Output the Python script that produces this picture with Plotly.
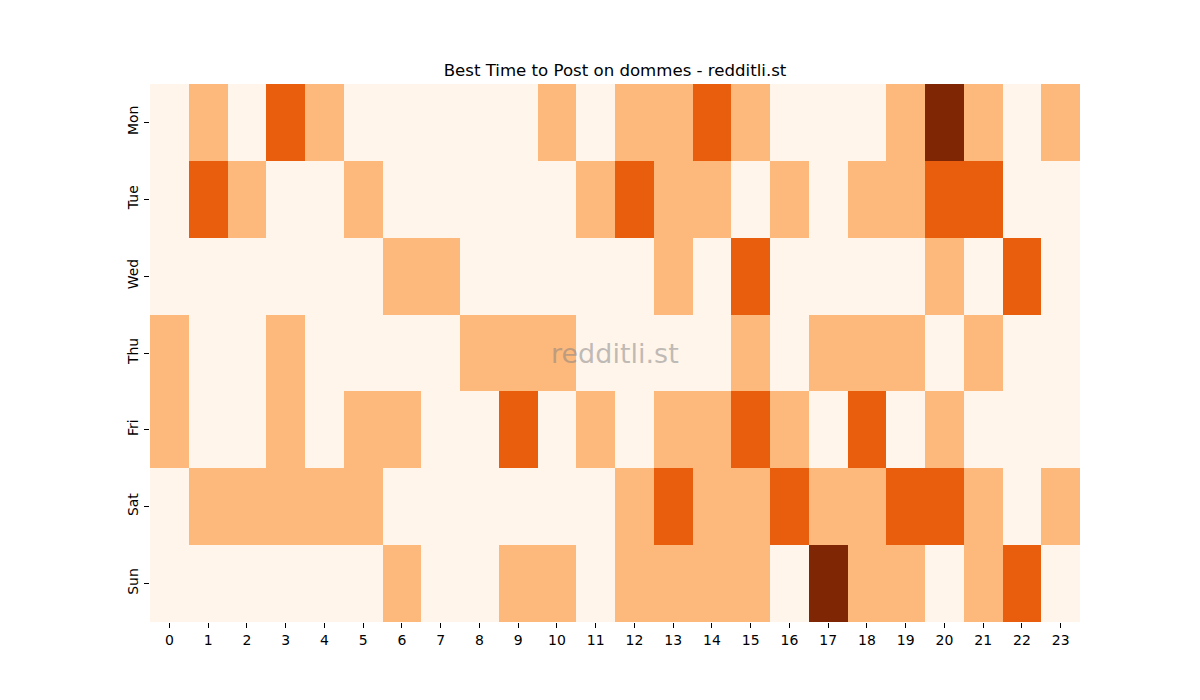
import plotly.graph_objects as go

# posting activity level per weekday and hour (0 = none ... 3 = highest)
days = ["Mon", "Tue", "Wed", "Thu", "Fri", "Sat", "Sun"]
hours = list(range(24))

mon = [0, 1, 0, 2, 1, 0, 0, 0, 0, 0, 1, 0, 1, 1, 2, 1, 0, 0, 0, 1, 3, 1, 0, 1]
tue = [0, 2, 1, 0, 0, 1, 0, 0, 0, 0, 0, 1, 2, 1, 1, 0, 1, 0, 1, 1, 2, 2, 0, 0]
wed = [0, 0, 0, 0, 0, 0, 1, 1, 0, 0, 0, 0, 0, 1, 0, 2, 0, 0, 0, 0, 1, 0, 2, 0]
thu = [1, 0, 0, 1, 0, 0, 0, 0, 1, 1, 1, 0, 0, 0, 0, 1, 0, 1, 1, 1, 0, 1, 0, 0]
fri = [1, 0, 0, 1, 0, 1, 1, 0, 0, 2, 0, 1, 0, 1, 1, 2, 1, 0, 2, 0, 1, 0, 0, 0]
sat = [0, 1, 1, 1, 1, 1, 0, 0, 0, 0, 0, 0, 1, 2, 1, 1, 2, 1, 1, 2, 2, 1, 0, 1]
sun = [0, 0, 0, 0, 0, 0, 1, 0, 0, 1, 1, 0, 1, 1, 1, 1, 0, 3, 1, 1, 0, 1, 2, 0]

z = [mon, tue, wed, thu, fri, sat, sun]

oranges = [[0.0, "#fff5eb"], [1 / 3, "#fdb87c"], [2 / 3, "#e95e0d"], [1.0, "#7f2704"]]

fig = go.Figure(go.Heatmap(
    z=z,
    x=hours,
    y=days,
    colorscale=oranges,
    zmin=0,
    zmax=3,
    showscale=False,
    xgap=0,
    ygap=0,
))

fig.add_annotation(
    x=11.5, y=3, xref="x", yref="y",
    text="redditli.st", showarrow=False,
    font=dict(family="DejaVu Sans", size=27, color="rgba(128,128,128,0.5)"),
)

# page body has an 8px margin, so shift everything up/left by 8px
fig.update_layout(
    width=1200,
    height=700,
    margin=dict(l=142, r=128, t=76, b=86),
    paper_bgcolor="white",
    plot_bgcolor="white",
    font=dict(family="DejaVu Sans", size=14, color="black"),
    title=dict(
        text="Best Time to Post on dommes - redditli.st",
        x=0.5, xref="paper", xanchor="center",
        y=1 - 62 / 700, yanchor="middle",
        font=dict(size=16.6, color="black"),
    ),
)

fig.update_xaxes(
    tickmode="array", tickvals=hours, ticktext=[str(h) for h in hours],
    ticks="outside", ticklen=5, tickcolor="black",
    showgrid=False, zeroline=False, showline=False,
    range=[-0.5, 23.5],
)
fig.update_yaxes(
    autorange="reversed", tickangle=-90,
    ticks="outside", ticklen=5, tickcolor="black",
    showgrid=False, zeroline=False, showline=False,
)

fig.write_html("out.html")
